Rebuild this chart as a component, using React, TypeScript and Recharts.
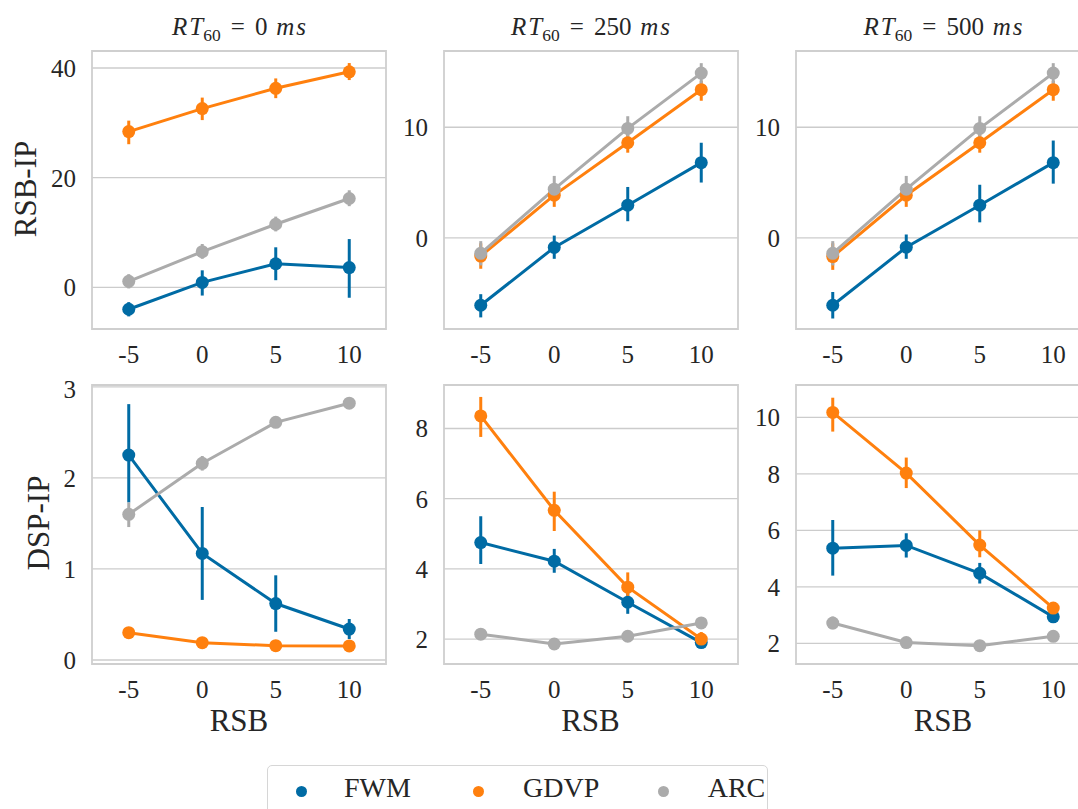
import React from "react";
import {
  LineChart,
  Line,
  XAxis,
  YAxis,
  CartesianGrid,
  ErrorBar,
  ReferenceArea,
} from "recharts";

// RSB levels (x categories)
const rsbLevels = ["-5", "0", "5", "10"];
const methods = ["FWM", "GDVP", "ARC"];
const rt60Labels = ["0", "250", "500"];

// RSB-IP, mean per method (rows: FWM, GDVP, ARC)
const rsbIp0Mean = [
  [-4.0, 0.9, 4.3, 3.6],
  [28.4, 32.6, 36.3, 39.3],
  [1.1, 6.5, 11.5, 16.2],
];
const rsbIp0Ci = [
  [[-5.3, -2.7], [-1.5, 3.1], [1.3, 7.3], [-1.9, 8.8]],
  [[26.1, 30.4], [30.5, 34.6], [34.5, 38.1], [37.8, 40.9]],
  [[-0.2, 2.4], [5.2, 7.9], [10.2, 12.9], [14.8, 17.7]],
];
const rsbIp250Mean = [
  [-6.1, -0.87, 2.95, 6.8],
  [-1.65, 3.86, 8.6, 13.4],
  [-1.4, 4.4, 9.9, 14.9],
];
const rsbIp250Ci = [
  [[-7.2, -5.1], [-1.9, 0.2], [1.5, 4.6], [5.0, 8.6]],
  [[-2.8, -0.5], [2.8, 4.9], [7.7, 9.6], [12.4, 14.2]],
  [[-2.5, -0.3], [3.3, 5.6], [8.8, 11.0], [13.9, 15.8]],
];
const rsbIp500Mean = [
  [-6.1, -0.85, 2.95, 6.8],
  [-1.7, 3.85, 8.6, 13.4],
  [-1.4, 4.4, 9.9, 14.9],
];
const rsbIp500Ci = [
  [[-7.3, -4.9], [-1.9, 0.3], [1.4, 4.8], [4.9, 8.8]],
  [[-2.9, -0.5], [2.8, 4.9], [7.7, 9.6], [12.4, 14.2]],
  [[-2.5, -0.3], [3.3, 5.6], [8.8, 11.0], [13.9, 15.8]],
];

// DSP-IP
const dspIp0Mean = [
  [2.25, 1.17, 0.62, 0.34],
  [0.3, 0.19, 0.157, 0.155],
  [1.6, 2.16, 2.61, 2.82],
];
const dspIp0Ci = [
  [[1.73, 2.81], [0.66, 1.68], [0.31, 0.93], [0.23, 0.45]],
  [[0.25, 0.35], [0.17, 0.21], [0.14, 0.17], [0.14, 0.17]],
  [[1.46, 1.73], [2.08, 2.24], [2.58, 2.64], [2.8, 2.84]],
];
const dspIp250Mean = [
  [4.75, 4.22, 3.05, 1.9],
  [8.36, 5.67, 3.48, 2.0],
  [2.14, 1.86, 2.08, 2.46],
];
const dspIp250Ci = [
  [[4.14, 5.5], [3.89, 4.57], [2.72, 3.33], [1.8, 2.0]],
  [[7.76, 8.9], [5.08, 6.2], [3.1, 3.9], [1.8, 2.2]],
  [[2.0, 2.28], [1.82, 1.9], [2.04, 2.12], [2.4, 2.52]],
];
const dspIp500Mean = [
  [5.37, 5.47, 4.48, 2.94],
  [10.18, 8.03, 5.48, 3.25],
  [2.72, 2.03, 1.92, 2.25],
];
const dspIp500Ci = [
  [[4.4, 6.37], [5.04, 5.9], [4.12, 4.85], [2.78, 3.1]],
  [[9.5, 10.7], [7.5, 8.58], [5.05, 6.0], [3.1, 3.4]],
  [[2.5, 2.95], [1.98, 2.08], [1.88, 1.96], [2.2, 2.3]],
];

const COLORS = ["#006BA4", "#FF800E", "#ABABAB"];
const FONT = '"Liberation Serif", "DejaVu Serif", serif';
const TEXT = "#262626";
const GRID = "#cccccc";

const PLOT_W = 294;
const Y_AXIS_W = 70;
const X_AXIS_H = 44;
const M_TOP = 10;
const M_RIGHT = 10;

type Panel = {
  mean: number[][];
  ci: number[][][];
  domain: [number, number];
  ticks: number[];
  left: number; // plot-area left
  top: number; // plot-area top
  height: number;
};

const colLefts = [92, 443.5, 796];
const rowTops = [51, 384.5];
const rowHeights = [278, 279];

const panels: Panel[] = [
  { mean: rsbIp0Mean, ci: rsbIp0Ci, domain: [-7.6, 43.1], ticks: [0, 20, 40], left: colLefts[0], top: rowTops[0], height: rowHeights[0] },
  { mean: rsbIp250Mean, ci: rsbIp250Ci, domain: [-8.25, 16.9], ticks: [0, 10], left: colLefts[1], top: rowTops[0], height: rowHeights[0] },
  { mean: rsbIp500Mean, ci: rsbIp500Ci, domain: [-8.25, 16.9], ticks: [0, 10], left: colLefts[2], top: rowTops[0], height: rowHeights[0] },
  { mean: dspIp0Mean, ci: dspIp0Ci, domain: [-0.044, 3.02], ticks: [0, 1, 2, 3], left: colLefts[0], top: rowTops[1], height: rowHeights[1] },
  { mean: dspIp250Mean, ci: dspIp250Ci, domain: [1.29, 9.24], ticks: [2, 4, 6, 8], left: colLefts[1], top: rowTops[1], height: rowHeights[1] },
  { mean: dspIp500Mean, ci: dspIp500Ci, domain: [1.27, 11.15], ticks: [2, 4, 6, 8, 10], left: colLefts[2], top: rowTops[1], height: rowHeights[1] },
];

function buildRows(mean: number[][], ci: number[][][]) {
  return rsbLevels.map((lab, i) => {
    const row: Record<string, any> = { idx: i, rsb: lab };
    methods.forEach((m, s) => {
      const v = mean[s][i];
      row[m] = v;
      row[m + "_err"] = [v - ci[s][i][0], ci[s][i][1] - v];
    });
    return row;
  });
}

const tickStyle = { fontFamily: FONT, fontSize: 25, fill: TEXT };

function PanelChart({ p }: { p: Panel }) {
  const data = buildRows(p.mean, p.ci);
  const w = Y_AXIS_W + PLOT_W + M_RIGHT;
  const h = M_TOP + p.height + X_AXIS_H;
  return (
    <div style={{ position: "absolute", left: p.left - Y_AXIS_W, top: p.top - M_TOP }}>
      <LineChart width={w} height={h} data={data} margin={{ top: M_TOP, right: M_RIGHT, bottom: 0, left: 0 }}>
        <CartesianGrid vertical={false} stroke={GRID} strokeWidth={1.3} />
        <XAxis
          dataKey="idx"
          type="number"
          domain={[-0.5, 3.5]}
          ticks={[0, 1, 2, 3]}
          tickFormatter={(i: number) => rsbLevels[i]}
          axisLine={false}
          tickLine={false}
          tickSize={8}
          tickMargin={8}
          height={X_AXIS_H}
          tick={tickStyle}
          allowDataOverflow
        />
        <YAxis
          type="number"
          domain={p.domain}
          ticks={p.ticks}
          axisLine={false}
          tickLine={false}
          tickSize={8}
          tickMargin={8}
          width={Y_AXIS_W}
          tick={tickStyle}
          allowDataOverflow
        />
        <ReferenceArea
          x1={-0.5}
          x2={3.5}
          y1={p.domain[0]}
          y2={p.domain[1]}
          fill="none"
          stroke="#cfcfcf"
          strokeWidth={1.8}
          ifOverflow="visible"
        />
        {methods.map((m, s) => (
          <Line
            key={m}
            dataKey={m}
            type="linear"
            stroke={COLORS[s]}
            strokeWidth={3}
            dot={{ r: 6.5, fill: COLORS[s], stroke: COLORS[s], strokeWidth: 0 }}
            activeDot={false}
            isAnimationActive={false}
          >
            <ErrorBar dataKey={m + "_err"} direction="y" width={0} stroke={COLORS[s]} strokeWidth={3} />
          </Line>
        ))}
      </LineChart>
    </div>
  );
}

const textBase: React.CSSProperties = {
  position: "absolute",
  fontFamily: FONT,
  color: TEXT,
  lineHeight: 1,
  whiteSpace: "nowrap",
};

function Title({ rt, cx }: { rt: string; cx: number }) {
  return (
    <div style={{ ...textBase, left: cx, top: 13.5, fontSize: 25, transform: "translateX(-50%)" }}>
      <i>
        <span style={{ marginRight: "0.08em" }}>R</span>T
      </i>
      <span style={{ fontSize: "0.7em", position: "relative", top: "0.38em" }}>60</span>
      <span style={{ margin: "0 0.4em" }}>=</span>
      {rt}
      <i style={{ marginLeft: "0.35em" }}>
        <span style={{ marginRight: "0.08em" }}>m</span>s
      </i>
    </div>
  );
}

export default function App() {
  return (
    <div
      style={{
        position: "absolute",
        left: 0,
        top: 0,
        width: 1078,
        height: 809,
        overflow: "hidden",
        background: "#ffffff",
        fontFamily: FONT,
      }}
    >
      {panels.map((p, k) => (
        <PanelChart key={k} p={p} />
      ))}
      {rt60Labels.map((rt, c) => (
        <Title key={rt} rt={rt} cx={colLefts[c] + PLOT_W / 2} />
      ))}
      {colLefts.map((l, c) => (
        <div key={c} style={{ ...textBase, left: l + PLOT_W / 2, top: 705, fontSize: 31, transform: "translateX(-50%)" }}>
          RSB
        </div>
      ))}
      <div style={{ ...textBase, left: 25, top: 189, fontSize: 31, transform: "translate(-50%, -50%) rotate(-90deg)" }}>
        RSB-IP
      </div>
      <div style={{ ...textBase, left: 38, top: 523, fontSize: 31, transform: "translate(-50%, -50%) rotate(-90deg)" }}>
        DSP-IP
      </div>
      <div
        style={{
          position: "absolute",
          left: 267,
          top: 765,
          width: 499,
          height: 70,
          border: "1.5px solid #d6d6d6",
          borderRadius: 5,
          background: "#ffffff",
        }}
      >
        {methods.map((m, s) => (
          <React.Fragment key={m}>
            <div
              style={{
                position: "absolute",
                left: [33.7, 210, 395.7][s] - 5.5,
                top: 25 - 5.5,
                width: 11,
                height: 11,
                borderRadius: "50%",
                background: COLORS[s],
              }}
            />
            <div style={{ ...textBase, left: [76, 255, 439.7][s], top: 8, fontSize: 28 }}>{m}</div>
          </React.Fragment>
        ))}
      </div>
    </div>
  );
}
